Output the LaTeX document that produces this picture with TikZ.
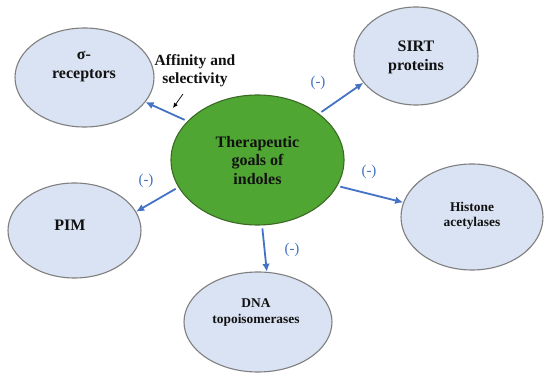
\documentclass[tikz,border=0pt]{standalone}
\usepackage{fontspec}
\setmainfont{Liberation Serif}
\usetikzlibrary{shapes.geometric,arrows.meta}
\definecolor{bubblefill}{HTML}{DAE3F3}
\definecolor{bubbleline}{HTML}{7F7F7F}
\definecolor{goalfill}{HTML}{50A632}
\definecolor{goalline}{HTML}{3A6B24}
\definecolor{arrowblue}{HTML}{4472C4}
\definecolor{txt}{HTML}{111111}
\begin{document}
\begin{tikzpicture}[x=1pt,y=-1pt,
  bubble/.style={ellipse, draw=bubbleline, fill=bubblefill, line width=1.1pt, inner sep=0pt},
  goal/.style={ellipse, draw=goalline, fill=goalfill, line width=1.1pt, inner sep=0pt},
  bigtxt/.style={font=\bfseries\fontsize{16}{19}\selectfont, align=center, inner sep=0pt, text=txt},
  smalltxt/.style={font=\bfseries\fontsize{13.4}{15.5}\selectfont, align=center, inner sep=0pt, text=txt},
  minuslbl/.style={font=\fontsize{15}{18}\selectfont, text=arrowblue, inner sep=0pt},
  bluearrow/.style={draw=arrowblue, line width=1.8pt, -{Latex[length=8pt,width=7.5pt]}, shorten <=3pt}
]
\useasboundingbox (0,0) rectangle (550,379);
\fill[white] (0,0) rectangle (550,379);

% ellipses
\node[goal, minimum width=173pt, minimum height=130pt] (goal) at (257.5,160) {};
\node[bubble, minimum width=139pt, minimum height=99pt] (sigma) at (84.5,77.5) {};
\node[bubble, minimum width=124pt, minimum height=98pt] (sirt) at (416,56) {};
\node[bubble, minimum width=133pt, minimum height=95pt] (pim) at (74.5,230.5) {};
\node[bubble, minimum width=142pt, minimum height=106pt] (hist) at (472,217) {};
\node[bubble, minimum width=148pt, minimum height=100pt] (dna) at (258,322) {};

% texts
\node[bigtxt, font=\bfseries\fontsize{16}{18.5}\selectfont] (goalt) at (257.5,160.5) {Therapeutic\\goals of\\indoles};
\node[bigtxt] (sigmat) at (84,66.5) {σ-\\receptors};
\node[bigtxt] (sirtt) at (416,57.5) {SIRT\\proteins};
\node[bigtxt] (pimt) at (70,225) {PIM};
\node[smalltxt] (histt) at (472,216) {Histone\\acetylases};
\node[smalltxt] (dnat) at (256,312.5) {DNA\\topoisomerases};
\node[bigtxt, font=\bfseries\fontsize{15.5}{18}\selectfont] (aff) at (195,71) {Affinity and\\selectivity};

% arrows
\draw[bluearrow] (goal.151) -- (sigma.338);
\draw[bluearrow] (goal.37) -- (sirt.207);
\draw[bluearrow] (goal.342) -- (hist.168);
\draw[bluearrow] (goal.274) -- (dna.80);
\draw[bluearrow] (goal.199.6) -- (pim.17);

% pointer
\coordinate (pfrom) at (183,94);
\coordinate (pto) at (173,108);
\draw[-{Latex[length=5pt,width=4.5pt]}, line width=0.7pt, draw=black] (pfrom) -- (pto);

% minus labels
\node[minuslbl] (m1) at (318,83) {(-)};
\node[minuslbl] (m2) at (369,172) {(-)};
\node[minuslbl] (m3) at (292,250) {(-)};
\node[minuslbl] (m4) at (146,181) {(-)};
\end{tikzpicture}
\end{document}
